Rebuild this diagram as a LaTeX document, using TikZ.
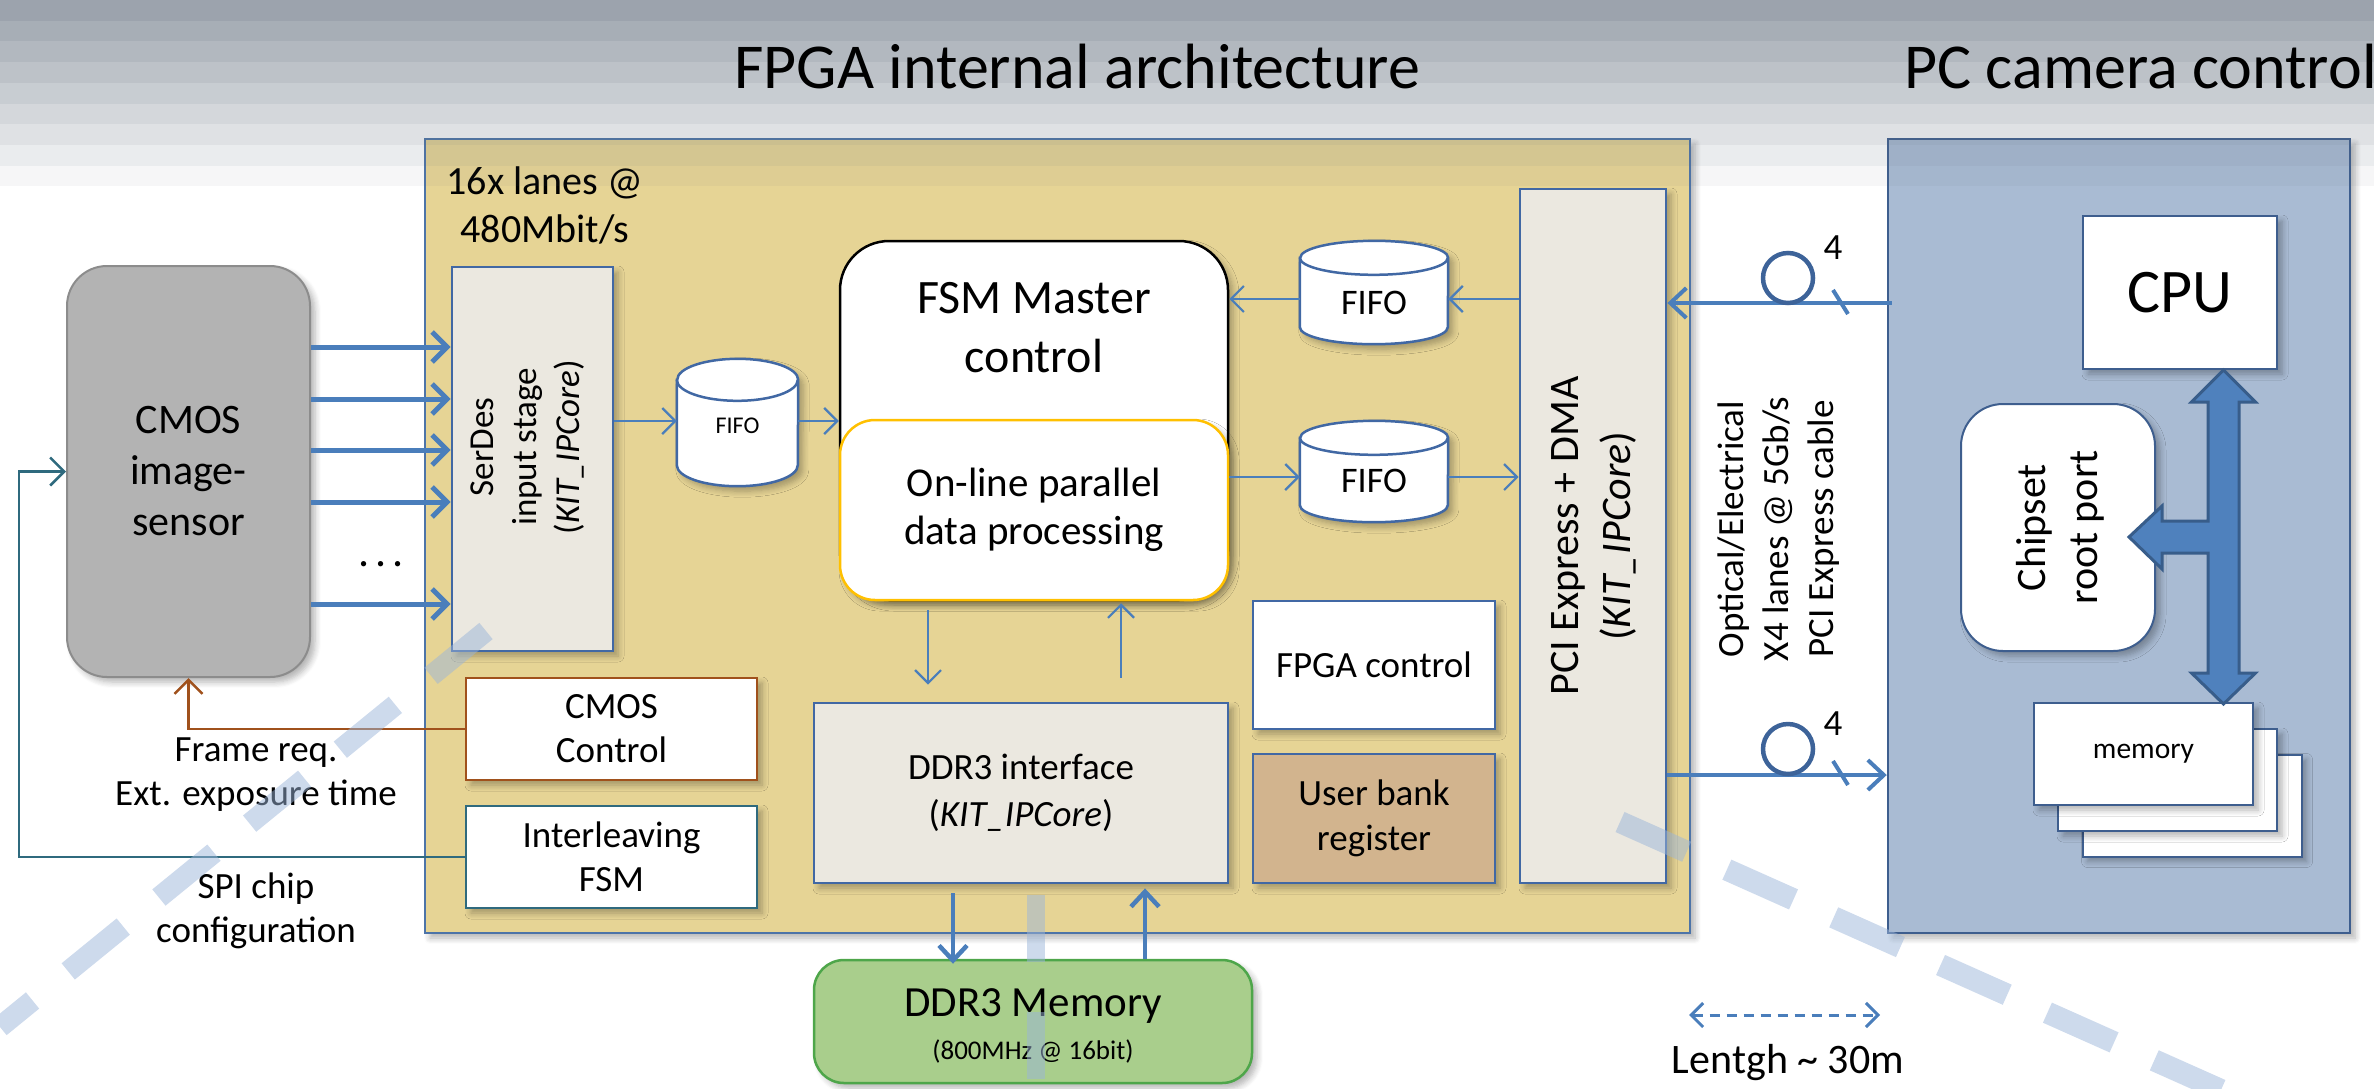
\documentclass[tikz,border=0pt]{standalone}
\usepackage{fontspec}
\setmainfont{Carlito}
\usetikzlibrary{arrows.meta,shadows.blur,calc}

\definecolor{fpgafill}{HTML}{E6D495}
\definecolor{fpgaedge}{HTML}{4D74A8}
\definecolor{pcfill}{HTML}{A9BBD3}
\definecolor{pcedge}{HTML}{3E5E8E}
\definecolor{coreedge}{HTML}{4168A4}
\definecolor{corefill}{HTML}{EBE8E0}
\definecolor{arrowblue}{HTML}{4A7EBB}
\definecolor{busfill}{HTML}{4F81BD}
\definecolor{busedge}{HTML}{385D8A}
\definecolor{sensorfill}{HTML}{B3B3B3}
\definecolor{sensoredge}{HTML}{8C8C8C}
\definecolor{goldedge}{HTML}{FFC000}
\definecolor{rust}{HTML}{A0511C}
\definecolor{spiteal}{HTML}{2F6A7E}
\definecolor{bankfill}{HTML}{D2B48E}
\definecolor{memfill}{HTML}{A9CE8C}
\definecolor{memedge}{HTML}{4EA64A}
\definecolor{ringblue}{HTML}{3D6399}
\definecolor{bandgrey}{HTML}{5F6B7A}
\definecolor{wmblue}{HTML}{9BB5D9}

\newcommand\fs[2]{\fontsize{#1pt}{#2pt}\selectfont}

\tikzset{
  shade box/.style={blur shadow={shadow xshift=5pt,shadow yshift=-5pt,shadow blur radius=6pt,shadow blur steps=6,shadow opacity=30}},
  blk/.style={inner sep=0pt, align=center, shade box},
  corebox/.style={blk, draw=coreedge, fill=corefill, line width=2.8pt},
  plainbox/.style={blk, draw=coreedge, fill=white, line width=2.5pt},
  pcbox/.style={blk, draw=pcedge, fill=white, line width=2pt},
  txt/.style={inner sep=0pt, align=center, text=black},
  thin arrow/.style={draw=arrowblue, line width=2.2pt, -{Straight Barb[length=13pt,width=26pt]}},
  lane arrow/.style={draw=arrowblue, line width=5pt, -{Straight Barb[length=15pt,width=30pt]}},
  mem arrow/.style={draw=arrowblue, line width=4.5pt, -{Straight Barb[length=15pt,width=28pt]}},
  link arrow/.style={draw=arrowblue, line width=4pt, -{Straight Barb[length=16pt,width=30pt]}},
  ctrl arrow/.style={line width=2.5pt, -{Straight Barb[length=14pt,width=28pt]}},
  drum body/.style={draw=coreedge, line width=2.5pt, fill=white, shade box},
  drum rim/.style={draw=coreedge, line width=2.5pt},
  watermark/.style={draw=wmblue, draw opacity=0.5, line cap=butt},
}

% FIFO drum: name, centre x, centre y, width, height, x radius, y radius
\newcommand\drum[7]{%
  \node[inner sep=0pt, minimum width=#4pt, minimum height=#5pt] (#1) at (#2,#3) {};
  \path[drum body] ($(#1.north west)+(0,#7)$) -- ($(#1.south west)-(0,#7)$)
    arc[start angle=180, end angle=360, x radius=#6pt, y radius=#7pt]
    -- ($(#1.north east)+(0,#7)$)
    arc[start angle=0, end angle=180, x radius=#6pt, y radius=#7pt] -- cycle;
  \draw[drum rim] ($(#1.north west)+(0,#7)$)
    arc[start angle=180, end angle=360, x radius=#6pt, y radius=#7pt];
}

\begin{document}
\begin{tikzpicture}[x=1pt,y=-1pt]
\useasboundingbox (0,0) rectangle (2374,1088);

% ---------- outer frames ----------
\node[blk, draw=fpgaedge, fill=fpgafill, line width=2pt, minimum width=1265pt, minimum height=794pt] (fpga) at (1057.5,536) {};
\node[blk, draw=pcedge, fill=pcfill, line width=2.5pt, minimum width=462pt, minimum height=794pt] (pc) at (2119,536) {};

% ---------- image sensor ----------
\node[blk, draw=sensoredge, fill=sensorfill, line width=2pt, rounded corners=40pt,
      minimum width=243pt, minimum height=411pt, font=\fs{42}{51}] (sensor) at (188.5,471.5) {CMOS\\image-\\sensor};

% ---------- FPGA blocks ----------
\node[txt, font=\fs{40}{48}] (lanes) at (545,205) {16x lanes @\\480Mbit/s};

\node[corebox, minimum width=161pt, minimum height=384pt] (serdes) at (532.5,459) {};
\node[txt, rotate=90, font=\fs{35}{43}] (serdestxt) at (528,447) {SerDes\\input stage\\(\textit{KIT\_IPCore})};

\drum{fifo1}{737.5}{422.5}{121}{127}{60.5}{21}
\node[txt, font=\fs{24}{28}] (fifo1txt) at (737.5,426) {FIFO};

\node[blk, draw=black, fill=white, line width=2.5pt, rounded corners=49pt,
      minimum width=388pt, minimum height=359pt] (fsm) at (1034,420.5) {};
\node[txt, font=\fs{48}{59}] (fsmtxt) at (1034,327.5) {FSM Master\\control};
\node[blk, draw=goldedge, fill=white, line width=2.5pt, rounded corners=35pt,
      minimum width=388pt, minimum height=180pt, font=\fs{41}{48}] (online) at (1034,510) {On-line parallel\\data processing};

\drum{fifo2}{1374}{292.5}{148}{103}{74}{17}
\node[txt, font=\fs{36}{42}] (fifo2txt) at (1374,303) {FIFO};
\drum{fifo3}{1374}{471.5}{148}{101}{74}{17}
\node[txt, font=\fs{36}{42}] (fifo3txt) at (1374,481) {FIFO};

\node[corebox, minimum width=146pt, minimum height=694pt] (pcie) at (1593,536) {};
\node[txt, rotate=90, font=\fs{42}{52}] (pcietxt) at (1594,536) {PCI Express + DMA\\(\textit{KIT\_IPCore})};

\node[corebox, minimum width=414pt, minimum height=180pt, font=\fs{37}{47}] (ddrif) at (1021,793) {DDR3 interface\\(\textit{KIT\_IPCore})};

\node[plainbox, minimum width=242pt, minimum height=128pt, font=\fs{37}{45}] (fpgactl) at (1374,665) {FPGA control};
\node[blk, draw=coreedge, fill=bankfill, line width=2.5pt, minimum width=242pt, minimum height=129pt,
      font=\fs{37}{45}] (bank) at (1374,818.5) {User bank\\register};

\node[blk, draw=rust, fill=white, line width=2.5pt, minimum width=291pt, minimum height=102pt,
      font=\fs{37}{44}] (cmosctl) at (611.5,729) {CMOS\\Control};
\node[blk, draw=spiteal, fill=white, line width=2.5pt, minimum width=291pt, minimum height=102pt,
      font=\fs{37}{44}] (ileave) at (611.5,857) {Interleaving\\FSM};

% ---------- external DDR3 ----------
\node[blk, draw=memedge, fill=memfill, line width=2.5pt, rounded corners=30pt,
      minimum width=438pt, minimum height=123pt] (ddrmem) at (1033,1021.5) {};
\node[txt, font=\fs{43}{50}] (ddrmemtxt) at (1033,1006) {DDR3 Memory};
\node[txt, font=\fs{27}{32}] (ddrmemsub) at (1033,1051) {(800MHz @ 16bit)};

% ---------- PC side ----------
\node[pcbox, minimum width=194pt, minimum height=153pt, font=\fs{62}{70}] (cpu) at (2180,292.5) {CPU};
\node[pcbox, rounded corners=42pt, minimum width=194pt, minimum height=247pt] (chipset) at (2058,527.5) {};
\node[txt, rotate=90, font=\fs{42}{52}] (chiptxt) at (2060,527.5) {Chipset\\root port};
\node[pcbox, minimum width=219pt, minimum height=102pt] (mem3) at (2192,805.5) {};
\node[pcbox, minimum width=219pt, minimum height=102pt] (mem2) at (2167.5,780) {};
\node[pcbox, minimum width=219pt, minimum height=102pt, font=\fs{29.5}{35}] (mem1) at (2143.5,754) {memory};

% system bus between CPU, chipset and memory
\coordinate (busX) at (2223.5,0);
\begin{scope}[shift={(cpu.south -| busX)}]
  \draw[fill=busfill, draw=busedge, line width=3pt, line join=miter]
    (0,0) -- (32,32) -- (15.5,32) -- (15.5,303) -- (32,303) -- (0,334) -- (-32,303) -- (-15.5,303)
    -- (-15.5,183) -- (-61.5,183) -- (-61.5,199) -- (-94.5,167) -- (-61.5,136) -- (-61.5,151)
    -- (-15.5,151) -- (-15.5,32) -- (-32,32) -- cycle;
\end{scope}

% ---------- sensor lanes ----------
\foreach \ly [count=\k] in {347,399,450,502,604} {
  \coordinate (lane\k) at (0,\ly);
  \draw[lane arrow] (sensor.east |- lane\k) -- (serdes.west |- lane\k);
}
\node[txt, font=\fs{44}{50}, anchor=base] (dots) at (381,566) {.\hspace{6pt}.\hspace{6pt}.};

% ---------- data path inside the FPGA ----------
\coordinate (rowA) at (0,421);
\draw[thin arrow] (serdes.east |- rowA) -- (fifo1.west |- rowA);
\draw[thin arrow] (fifo1.east |- rowA) -- (fsm.west |- rowA);
\coordinate (rowB) at (0,299);
\draw[thin arrow] (pcie.west |- rowB) -- (fifo2.east |- rowB);
\draw[thin arrow] (fifo2.west |- rowB) -- (fsm.east |- rowB);
\coordinate (rowC) at (0,477);
\draw[thin arrow] (online.east |- rowC) -- (fifo3.west |- rowC);
\draw[thin arrow] (fifo3.east |- rowC) -- (pcie.west |- rowC);

\coordinate (colD) at (928,0);
\draw[thin arrow, shorten <=9pt, shorten >=17pt] (online.south -| colD) -- (ddrif.north -| colD);
\coordinate (colU) at (1121,0);
\draw[thin arrow, shorten <=24pt, shorten >=2pt] (ddrif.north -| colU) -- (online.south -| colU);

\coordinate (colM1) at (953,0);
\draw[mem arrow, shorten <=9pt, shorten >=-5pt] (ddrif.south -| colM1) -- (ddrmem.north -| colM1);
\coordinate (colM2) at (1145,0);
\draw[mem arrow, shorten >=4pt] (ddrmem.north -| colM2) -- (ddrif.south -| colM2);

% ---------- sensor control ----------
\draw[ctrl arrow, draw=rust] (cmosctl.west) -| (sensor.south);
\coordinate (spiX) at (19,0);
\draw[ctrl arrow, draw=spiteal] (ileave.west) -- (ileave.west -| spiX) |- (sensor.west);
\node[txt, font=\fs{37}{44}] (framelbl) at (256,775) {Frame req.\\Ext. exposure time};
\node[txt, font=\fs{37}{44}] (spilbl) at (256,911) {SPI chip\\configuration};

% ---------- PCIe cable ----------
\coordinate (linkT) at (0,303);
\coordinate (linkB) at (0,775);
\draw[link arrow, shorten <=-5pt] (pc.west |- linkT) -- (pcie.east |- linkT);
\draw[link arrow] (pcie.east |- linkB) -- (pc.west |- linkB);
\node[circle, draw=ringblue, line width=4.5pt, minimum size=50pt, inner sep=0pt] (ringT) at (1788,278) {};
\node[circle, draw=ringblue, line width=4.5pt, minimum size=50pt, inner sep=0pt] (ringB) at (1788,749) {};
\draw[draw=arrowblue, line width=4pt] ($(ringT)+(45,12)$) -- ($(ringT)+(60,36)$);
\draw[draw=arrowblue, line width=4pt] ($(ringB)+(45,12)$) -- ($(ringB)+(60,36)$);
\node[txt, font=\fs{37}{44}] (fourT) at (1833,248) {4};
\node[txt, font=\fs{37}{44}] (fourB) at (1833,724) {4};
\node[txt, rotate=90, font=\fs{37}{45}] (cable) at (1779,529) {Optical/Electrical\\X4 lanes @ 5Gb/s\\PCI Express cable};

\coordinate (lenL) at (1689,1015);
\coordinate (lenR) at (1880,1015);
\draw[draw=arrowblue, line width=3pt, dash pattern=on 10pt off 7pt,
      {Straight Barb[length=12pt,width=24pt]}-{Straight Barb[length=12pt,width=24pt]}] (lenL) -- (lenR);
\node[txt, font=\fs{42}{50}] (lenlbl) at (1788,1063) {Lentgh \textasciitilde{} 30m};

% ---------- faint dashed guide strokes ----------
\draw[watermark, line width=21pt, dash pattern=on 71pt off 46pt, dash phase=29pt] (0,1027) -- (486,631);
\draw[watermark, line width=18pt, dash pattern=on 67pt off 50pt] (1036,895) -- (1036,1088);
\draw[watermark, line width=22pt, dash pattern=on 73pt off 44pt] (1620,822) -- (2250,1103);

% ---------- banded header ----------
\foreach \k/\op in {0/0.62,1/0.55,2/0.48,3/0.41,4/0.34,5/0.27,6/0.20,7/0.13,8/0.06}
  \fill[bandgrey, opacity=\op] (0,{\k*20.7}) rectangle (2374,{(\k+1)*20.7});

\node[txt, anchor=base west, font=\fs{64}{70}] (title1) at (734,88) {FPGA internal architecture};
\node[txt, anchor=base west, font=\fs{64}{70}] (title2) at (1904,88) {PC camera control};
\end{tikzpicture}
\end{document}
